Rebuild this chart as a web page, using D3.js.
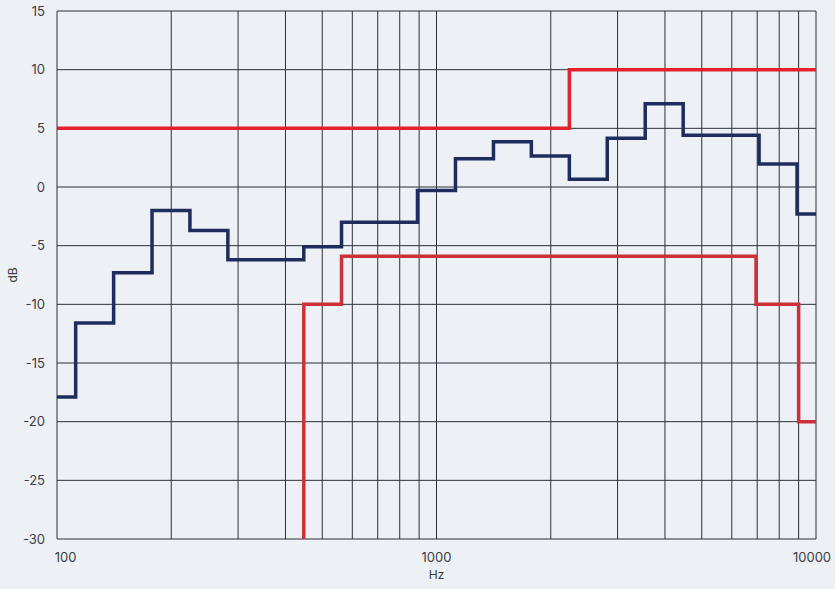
<!DOCTYPE html>
<html>
<head>
<meta charset="utf-8">
<script src="https://cdn.jsdelivr.net/npm/d3@7"></script>
<style>
  html, body { margin: 0; padding: 0; background: #edf0f5; }
  svg { display: block; }
  text { font-family: Inter, "Noto Sans", sans-serif; fill: #3a3d45; }
</style>
</head>
<body>
<svg id="chart" width="835" height="589"></svg>
<script>
// ---- data ----
// measured spectrum: band edge frequencies (Hz) and level (dB) per band
const measuredEdges = [100, 112, 141, 178, 224, 282, 447, 562, 891, 1122, 1413, 1778, 2239, 2818, 3548, 4467, 7079, 8913, 10000];
const measuredLevels = [-17.9, -11.6, -7.3, -2.0, -3.7, -6.2, -5.1, -3.0, -0.3, 2.4, 3.85, 2.65, 0.65, 4.15, 7.1, 4.4, 1.95, -2.3];

// upper limit
const upperEdges = [100, 2239, 10000];
const upperLevels = [5, 10];

// lower limit
const lowerEdges = [447, 447, 562, 6950, 9000, 10000];
const lowerLevels = [-30, -10, -5.9, -10, -20];

const xTicks = [100, 1000, 10000];
const xGrid = [100,200,300,400,500,600,700,800,900,1000,2000,3000,4000,5000,6000,7000,8000,9000,10000];
const yTicks = [15, 10, 5, 0, -5, -10, -15, -20, -25, -30];

// ---- layout ----
const svg = d3.select("#chart");
const margin = {left: 57, right: 19, top: 11, bottom: 50};
const W = 835, H = 589;
const x = d3.scaleLog().domain([100, 10000]).range([margin.left, W - margin.right]);
const y = d3.scaleLinear().domain([-30, 15]).range([H - margin.bottom, margin.top]);

const gridColor = "#2b303c";

// vertical grid
svg.append("g").selectAll("line").data(xGrid).join("line")
  .attr("x1", d => x(d)).attr("x2", d => x(d))
  .attr("y1", y(15)).attr("y2", y(-30))
  .attr("stroke", gridColor).attr("stroke-width", 1);

// horizontal grid
svg.append("g").selectAll("line").data(yTicks).join("line")
  .attr("x1", x(100)).attr("x2", x(10000))
  .attr("y1", d => y(d)).attr("y2", d => y(d))
  .attr("stroke", gridColor).attr("stroke-width", 1);

// y labels
svg.append("g").selectAll("text").data(yTicks).join("text")
  .attr("x", margin.left - 12).attr("y", d => y(d))
  .attr("dy", "0.35em").attr("text-anchor", "end")
  .attr("font-size", 13)
  .text(d => d);

// x labels
svg.append("g").selectAll("text").data(xTicks).join("text")
  .attr("x", (d, i) => x(d) + (i === 0 ? 8.5 : (i === xTicks.length - 1 ? -4 : 0)))
  .attr("y", y(-30) + 18)
  .attr("dy", "0.35em").attr("text-anchor", "middle")
  .attr("font-size", 13)
  .text(d => d);

// axis titles
svg.append("text").attr("x", x(1000)).attr("y", 579)
  .attr("text-anchor", "middle").attr("font-size", 12).text("Hz");
svg.append("text")
  .attr("transform", `translate(17,${(y(15)+y(-30))/2}) rotate(-90)`)
  .attr("text-anchor", "middle").attr("font-size", 12).text("dB");

// step series helper
function stepPoints(edges, levels) {
  const pts = [];
  for (let i = 0; i < levels.length; i++) {
    pts.push([edges[i], levels[i]]);
  }
  pts.push([edges[edges.length - 1], levels[levels.length - 1]]);
  return pts;
}
const line = d3.line().x(d => x(d[0])).y(d => y(d[1])).curve(d3.curveStepAfter);

svg.append("path").datum(stepPoints(upperEdges, upperLevels))
  .attr("d", line).attr("fill", "none")
  .attr("stroke", "#e4202c").attr("stroke-width", 3.5).attr("stroke-linejoin", "miter");

svg.append("path").datum(stepPoints(lowerEdges, lowerLevels))
  .attr("d", line).attr("fill", "none")
  .attr("stroke", "#cc3038").attr("stroke-width", 3.5).attr("stroke-linejoin", "miter");

svg.append("path").datum(stepPoints(measuredEdges, measuredLevels))
  .attr("d", line).attr("fill", "none")
  .attr("stroke", "#1f2d5e").attr("stroke-width", 3.5).attr("stroke-linejoin", "miter");
</script>
</body>
</html>
